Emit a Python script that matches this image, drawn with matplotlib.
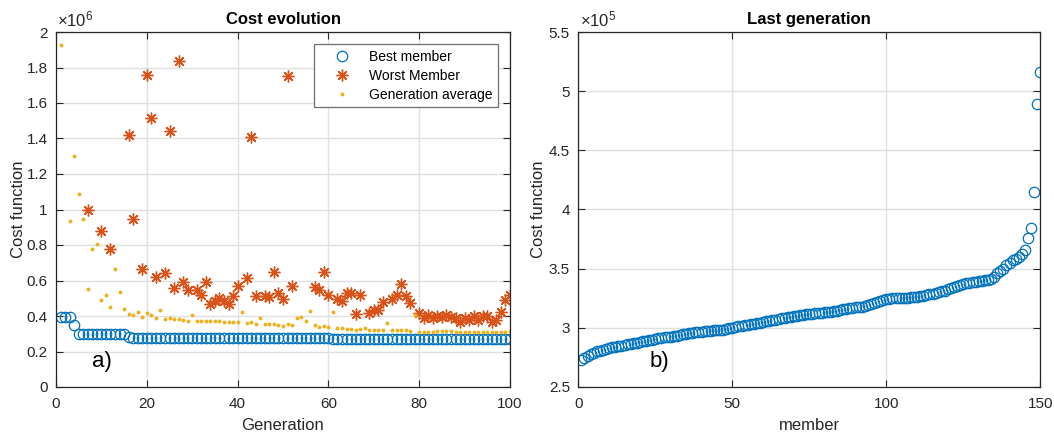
import numpy as np
import matplotlib
matplotlib.use("Agg")
import matplotlib.pyplot as plt
from matplotlib.ticker import FuncFormatter, FixedLocator

plt.rcParams['font.family'] = ['Liberation Sans', 'DejaVu Sans']
plt.rcParams['mathtext.fontset'] = 'custom'
plt.rcParams['mathtext.rm'] = 'Liberation Sans'
plt.rcParams['mathtext.default'] = 'regular'

# ---- cost evolution per generation (costs in units of 1e6) ----
generation = np.arange(1, 101)

best_member = [0.393, 0.393, 0.393, 0.350] + [0.297] * 11 + [0.283] + [0.275] * 44 + [0.273] * 40

nan = np.nan
worst_member = [
    nan, nan, nan, nan, nan, nan, 0.996, nan, nan, 0.878,
    nan, 0.775, nan, nan, nan, 1.419, 0.949, nan, 0.662, 1.756,
    1.515, 0.619, nan, 0.643, 1.440, 0.560, 1.836, 0.592, 0.545, nan,
    0.545, 0.516, 0.592, 0.465, 0.487, 0.499, 0.484, 0.466, 0.511, 0.568,
    nan, 0.616, 1.410, 0.511, nan, 0.515, 0.507, 0.646, 0.528, 0.498,
    1.752, 0.568, nan, nan, nan, nan, 0.564, 0.549, 0.648, 0.517,
    nan, 0.498, 0.485, 0.527, 0.530, 0.414, 0.519, nan, 0.417, 0.432,
    0.436, 0.479, nan, 0.493, 0.521, 0.583, 0.511, 0.474, nan, 0.417,
    0.386, 0.404, 0.389, 0.399, 0.395, 0.408, 0.395, 0.391, 0.365, 0.386,
    0.376, 0.399, 0.376, 0.399, 0.399, 0.367, 0.380, 0.425, 0.489, 0.517,
]

generation_average = [
    1.925, nan, 0.934, 1.300, 1.085, 0.944, 0.551, 0.780, 0.806, 0.489,
    0.521, 0.449, 0.662, 0.536, 0.442, 0.414, 0.408, 0.423, 0.397, 0.417,
    0.404, 0.391, 0.434, 0.383, 0.386, 0.383, 0.382, 0.376, 0.372, 0.406,
    0.372, 0.372, 0.372, 0.370, 0.370, 0.370, 0.368, 0.368, 0.368, 0.365,
    0.423, 0.363, 0.368, 0.356, 0.389, 0.354, 0.354, 0.354, 0.349, 0.344,
    0.355, 0.348, 0.390, 0.396, 0.373, 0.426, 0.347, 0.340, 0.343, 0.336,
    0.420, 0.331, 0.331, 0.329, 0.325, 0.323, 0.327, 0.335, 0.323, 0.323,
    0.323, 0.323, 0.361, 0.323, 0.320, 0.319, 0.319, 0.314, 0.403, 0.312,
    0.310, 0.310, 0.310, 0.314, 0.314, 0.314, 0.314, 0.308, 0.308, 0.308,
    0.308, 0.308, 0.308, 0.308, 0.308, 0.308, 0.308, 0.311, 0.311, 0.314,
]

# ---- sorted costs of the last generation (units of 1e5) ----
member = np.arange(1, 151)
last_generation_cost = [
    2.725, 2.745, 2.760, 2.775, 2.790, 2.800, 2.805, 2.810, 2.820, 2.830,
    2.835, 2.840, 2.845, 2.850, 2.855, 2.860, 2.865, 2.870, 2.875, 2.880,
    2.885, 2.890, 2.895, 2.900, 2.905, 2.910, 2.915, 2.920, 2.922, 2.925,
    2.930, 2.935, 2.940, 2.945, 2.950, 2.955, 2.958, 2.962, 2.965, 2.968,
    2.970, 2.972, 2.975, 2.978, 2.980, 2.982, 2.985, 2.990, 2.995, 3.000,
    3.010, 3.015, 3.018, 3.020, 3.025, 3.030, 3.035, 3.040, 3.045, 3.050,
    3.055, 3.060, 3.065, 3.070, 3.075, 3.080, 3.085, 3.090, 3.095, 3.098,
    3.100, 3.105, 3.110, 3.113, 3.116, 3.120, 3.122, 3.125, 3.128, 3.130,
    3.132, 3.135, 3.140, 3.145, 3.150, 3.155, 3.160, 3.165, 3.168, 3.172,
    3.176, 3.180, 3.185, 3.190, 3.200, 3.210, 3.222, 3.230, 3.238, 3.244,
    3.246, 3.248, 3.250, 3.252, 3.254, 3.255, 3.256, 3.258, 3.260, 3.263,
    3.267, 3.272, 3.278, 3.285, 3.290, 3.298, 3.305, 3.310, 3.315, 3.325,
    3.335, 3.345, 3.355, 3.365, 3.372, 3.378, 3.382, 3.386, 3.390, 3.393,
    3.397, 3.400, 3.405, 3.410, 3.430, 3.460, 3.480, 3.500, 3.530, 3.550,
    3.570, 3.585, 3.600, 3.620, 3.660, 3.760, 3.845, 4.148, 4.895, 5.159,
]

BLUE = '#0072BD'
RED = '#D95319'
YELLOW = '#EDB120'
AXC = '#262626'
GRIDC = '#e0e0e0'

W, H = 1054, 434
fig = plt.figure(figsize=(W / 100, H / 100), dpi=100)

ax1 = fig.add_axes([56 / W, 1 - 387 / H, 454 / W, 355 / H])
ax2 = fig.add_axes([578.3 / W, 1 - 387 / H, 462 / W, 355 / H])


def style_axes(ax):
    for sp in ax.spines.values():
        sp.set_color(AXC)
        sp.set_linewidth(0.9)
    ax.tick_params(direction='in', length=5, width=0.8, colors=AXC,
                   labelsize=11, top=True, right=True)
    ax.tick_params(axis='x', pad=7)
    ax.tick_params(axis='y', pad=6)
    ax.grid(True, color=GRIDC, linewidth=1.0)
    ax.set_axisbelow(True)


fmt = FuncFormatter(lambda v, p: f'{v:g}')

# left: cost evolution
style_axes(ax1)
ax1.plot(generation, best_member, linestyle='none', marker='o', markersize=7.5,
         markerfacecolor='none', markeredgecolor=BLUE, markeredgewidth=0.9,
         label='Best member')
ax1.plot(generation, worst_member, linestyle='none', marker=(8, 2, 0), markersize=8.5,
         markeredgecolor=RED, markeredgewidth=1.0, label='Worst Member')
ax1.plot(generation, generation_average, linestyle='none', marker='o', markersize=2.8,
         markerfacecolor=YELLOW, markeredgecolor=YELLOW, markeredgewidth=0,
         label='Generation average')
ax1.set_xlim(0, 100)
ax1.set_ylim(0, 2)
ax1.xaxis.set_major_locator(FixedLocator([0, 20, 40, 60, 80, 100]))
ax1.yaxis.set_major_locator(FixedLocator(np.arange(0, 2.01, 0.2)))
ax1.xaxis.set_major_formatter(fmt)
ax1.yaxis.set_major_formatter(fmt)
ax1.set_title('Cost evolution', fontsize=12, fontweight='bold', color='black', pad=6)
ax1.set_xlabel('Generation', fontsize=12, color=AXC)
ax1.set_ylabel('Cost function', fontsize=12, color=AXC)
ax1.xaxis.set_label_coords(0.5, -0.088)
ax1.yaxis.set_label_coords(-0.066, 0.5)
ax1.text(0.003, 1.008, r'$\times10^{6}$', transform=ax1.transAxes, fontsize=12,
         color=AXC, ha='left', va='bottom')
ax1.text(0.08, 0.055, 'a)', transform=ax1.transAxes, fontsize=16, color='black')
leg = ax1.legend(loc='upper right', bbox_to_anchor=(0.9736, 0.966), borderaxespad=0,
                 fontsize=10, frameon=True, fancybox=False, framealpha=1,
                 edgecolor='#6e6e6e', handletextpad=0.33, labelspacing=0.36,
                 borderpad=0.4, handlelength=3.2)
leg.get_frame().set_linewidth(0.9)

# right: last generation
style_axes(ax2)
ax2.plot(member, last_generation_cost, linestyle='none', marker='o', markersize=7.5,
         markerfacecolor='none', markeredgecolor=BLUE, markeredgewidth=0.9)
ax2.set_xlim(0, 150)
ax2.set_ylim(2.5, 5.5)
ax2.xaxis.set_major_locator(FixedLocator([0, 50, 100, 150]))
ax2.yaxis.set_major_locator(FixedLocator(np.arange(2.5, 5.51, 0.5)))
ax2.xaxis.set_major_formatter(fmt)
ax2.yaxis.set_major_formatter(fmt)
ax2.set_title('Last generation', fontsize=12, fontweight='bold', color='black', pad=6)
ax2.set_xlabel('member', fontsize=12, color=AXC)
ax2.set_ylabel('Cost function', fontsize=12, color=AXC)
ax2.xaxis.set_label_coords(0.5, -0.088)
ax2.yaxis.set_label_coords(-0.070, 0.5)
ax2.text(0.003, 1.008, r'$\times10^{5}$', transform=ax2.transAxes, fontsize=12,
         color=AXC, ha='left', va='bottom')
ax2.text(0.155, 0.055, 'b)', transform=ax2.transAxes, fontsize=16, color='black')

fig.savefig('out.png', dpi=100)
